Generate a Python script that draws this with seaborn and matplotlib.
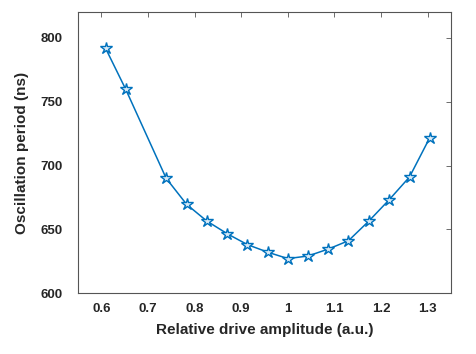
import numpy as np
import pandas as pd
import seaborn as sns
import matplotlib.pyplot as plt

amplitude = [0.609, 0.652, 0.739, 0.783, 0.826, 0.870, 0.913, 0.957, 1.000,
             1.043, 1.087, 1.130, 1.174, 1.217, 1.261, 1.304]
period = [792, 760, 690, 669.5, 656.5, 646.5, 638, 632, 627,
          629, 634.5, 641, 656.5, 673, 691, 721.5]
xticks = [0.6, 0.7, 0.8, 0.9, 1.0, 1.1, 1.2, 1.3]
xticklabels = ["0.6", "0.7", "0.8", "0.9", "1", "1.1", "1.2", "1.3"]
yticks = [600, 650, 700, 750, 800]

df = pd.DataFrame({"amp": amplitude, "period": period})

sns.set_style("white")
plt.rcParams['font.family'] = ['Liberation Sans', 'DejaVu Sans']

fig = plt.figure(figsize=(4.76, 3.54), dpi=100)
ax = fig.add_axes([0.1639, 0.1723, 0.7836, 0.7924])

blue = "#0072BD"
sns.lineplot(data=df, x="amp", y="period", ax=ax, color=blue, linewidth=1.1,
             marker="*", markersize=9, markerfacecolor="#d9eaf6",
             markeredgecolor=blue, markeredgewidth=1.0)

ax.set_xlim(0.55, 1.35)
ax.set_ylim(600, 820)
ax.set_xticks(xticks)
ax.set_xticklabels(xticklabels)
ax.set_yticks(yticks)
ax.tick_params(direction="in", top=True, right=True, length=3.5, width=0.6,
               color="#555555", labelsize=9.5)
ax.tick_params(axis="x", pad=7)
ax.tick_params(axis="y", pad=11)
for lab in ax.get_xticklabels() + ax.get_yticklabels():
    lab.set_fontweight("bold")
    lab.set_color("#262626")
for sp in ax.spines.values():
    sp.set_color("#555555")
    sp.set_linewidth(0.8)

ax.set_xlabel("Relative drive amplitude (a.u.)", fontsize=11, fontweight="bold",
              color="#262626", labelpad=6)
ax.set_ylabel("Oscillation period (ns)", fontsize=11, fontweight="bold",
              color="#262626", labelpad=8)

fig.savefig("out.png", dpi=100)
